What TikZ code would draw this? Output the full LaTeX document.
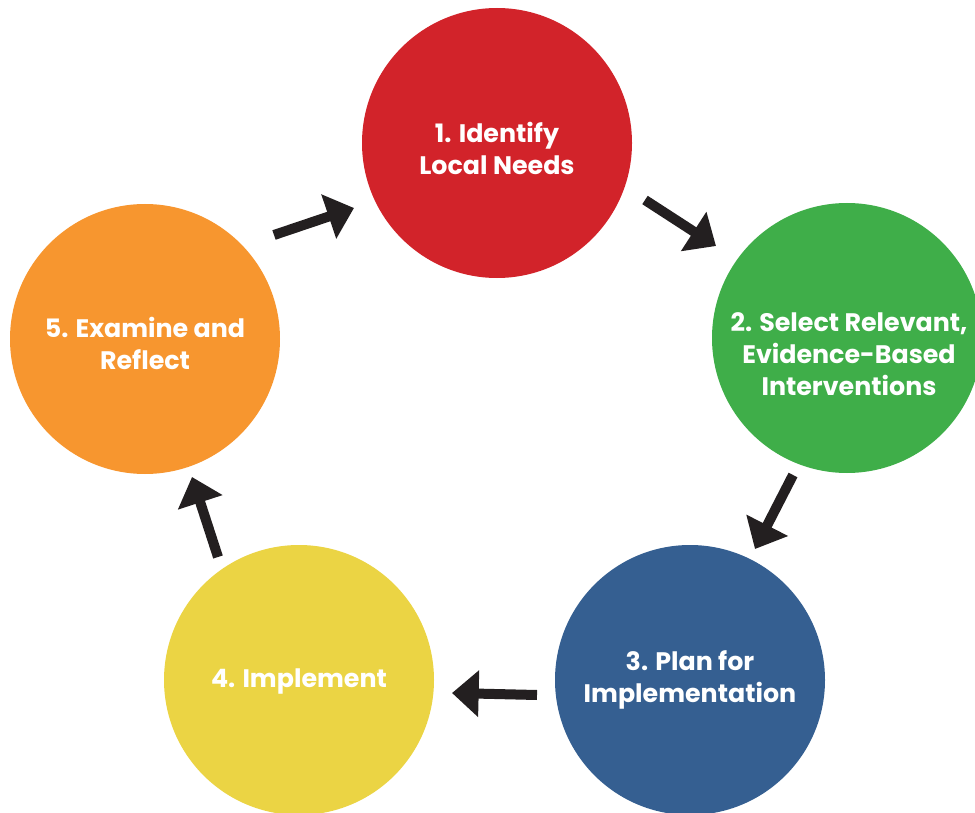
\documentclass[tikz,border=0pt]{standalone}
\usepackage{fontspec}
\setmainfont{Poppins}
\usetikzlibrary{positioning,arrows.meta}

\definecolor{stepred}{HTML}{D2232A}
\definecolor{stepgreen}{HTML}{3FAE49}
\definecolor{stepblue}{HTML}{355F91}
\definecolor{stepyellow}{HTML}{EBD444}
\definecolor{steporange}{HTML}{F7962F}
\definecolor{arrowblack}{HTML}{231F20}

\tikzset{
  steptext/.style={text=white,align=center,
    font=\fontsize{19}{24}\selectfont\bfseries},
  stepcircle/.style={circle,minimum size=202.5pt,inner sep=0pt,steptext},
  flow/.style={draw=arrowblack,line width=7.5pt,
    -{Triangle[length=20pt,width=34pt]}}
}

\begin{document}
\begin{tikzpicture}[x=0.75pt,y=-0.75pt]
  \useasboundingbox (0,0) rectangle (975,813);
  \node[stepcircle,fill=stepred] (c1) at (497,143) {};
  \node[stepcircle,fill=stepgreen] (c2) at (847,338) {};
  \node[stepcircle,fill=stepblue] (c3) at (690,680) {};
  \node[stepcircle,fill=stepyellow] (c4) at (299,680) {};
  \node[stepcircle,fill=steporange] (c5) at (145,339) {};
  % labels
  \node[steptext] (t1) at (497,148) {1. Identify\\Local Needs};
  \node[steptext] (t2) at (849,354) {2. Select Relevant,\\Evidence-Based\\Interventions};
  \node[steptext] (t3) at (690,680) {3. Plan for\\Implementation};
  \node[steptext] (t4) at (299,681) {4. Implement};
  \node[steptext] (t5) at (145,343) {5. Examine and\\Reflect};
  % arrow ends
  \coordinate (a1) at (645,200);  \coordinate (b1) at (716,246);
  \coordinate (a2) at (793,475);  \coordinate (b2) at (755,549);
  \coordinate (a3) at (537,695);  \coordinate (b3) at (452,693);
  \coordinate (a4) at (218,557);  \coordinate (b4) at (192,477);
  \coordinate (a5) at (274,235);  \coordinate (b5) at (354,208);
  \foreach \i in {1,...,5}
    \draw[flow] (a\i) -- (b\i);
\end{tikzpicture}
\end{document}
